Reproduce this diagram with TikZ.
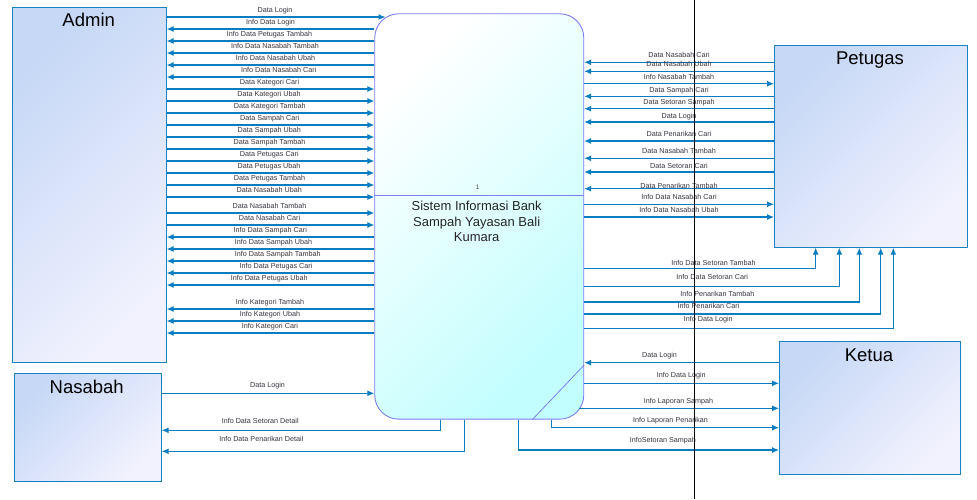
\documentclass[tikz,border=0pt]{standalone}
\usepackage{fontspec}
\setmainfont{Liberation Sans}
\usetikzlibrary{arrows.meta,calc}
\definecolor{flowc}{HTML}{0A7CC2}
\definecolor{entb}{HTML}{1482C4}
\definecolor{entA}{HTML}{C6D8F6}
\definecolor{entB}{HTML}{F2F2FE}
\definecolor{procb}{HTML}{7E7EF2}
\definecolor{procA}{HTML}{FFFFFF}
\definecolor{procB}{HTML}{C2FEFE}
\definecolor{lblc}{HTML}{3A3440}
\begin{document}
\begin{tikzpicture}[x=1pt,y=-1pt,
  ent/.style={draw=entb, line width=1pt, top color=entA, bottom color=entB, shading angle=45, anchor=north west, inner sep=0pt},
  procbox/.style={draw=procb, line width=0.9pt, rounded corners=24pt, top color=procA, bottom color=procB, shading angle=45, anchor=north west, inner sep=0pt},
  flow/.style={draw=flowc, line width=1.1pt, -{Latex[length=7pt,width=6pt]}},
  lbl/.style={font=\fontsize{7.2}{8}\selectfont, text=lblc, inner sep=0pt, anchor=base},
  ttl/.style={font=\fontsize{18.5}{20}\selectfont, inner sep=0pt, anchor=base},
  ptxt/.style={font=\fontsize{13}{15}\selectfont, text=black!85, inner sep=0pt, anchor=base}]
\useasboundingbox (0,0) rectangle (977,499);
\fill[white] (0,0) rectangle (977,499);

% entities
\node[ent, minimum width=153.4pt, minimum height=354.7pt] (admin) at (12.3,7.3) {};
\node[ent, minimum width=146.7pt, minimum height=107.7pt] (nas) at (14,373.3) {};
\node[ent, minimum width=192.7pt, minimum height=201.4pt] (pet) at (774,45.3) {};
\node[ent, minimum width=181pt, minimum height=133pt] (ket) at (779,341) {};
\node[ttl] (admint) at (88.7,26.7) {Admin};
\node[ttl] (nast) at (86.7,393.3) {Nasabah};
\node[ttl] (pett) at (870,64.7) {Petugas};
\node[ttl] (kett) at (869,361) {Ketua};

% process
\node[procbox, minimum width=209pt, minimum height=405.4pt] (proc) at (374.3,13.3) {};
\draw[procb, line width=0.8pt] (proc.west |- 0,195) -- (proc.east |- 0,195);
\draw[procb, line width=0.8pt] (proc.east |- 0,365) -- (proc.south -| 532.3,0);
\node[font=\fontsize{6.5}{7}\selectfont, text=black!70, inner sep=0pt] (pnum) at (477.7,187.7) {1};
\node[ptxt] (pt1) at (476.7,210) {Sistem Informasi Bank};
\node[ptxt] (pt2) at (476.7,226) {Sampah Yayasan Bali};
\node[ptxt] (pt3) at (476.7,241.7) {Kumara};

% Admin <-> process
\coordinate (pin) at (385.5,17);
\draw[flow] (admin.east |- pin) -- (pin);
\node[lbl] (la0) at (275,12.5) {Data Login};
\foreach \yy/\lx/\lab [count=\i] in {
  29/270.5/Info Data Login,
  41/269.5/Info Data Petugas Tambah,
  53/275/Info Data Nasabah Tambah,
  65/275.5/Info Data Nasabah Ubah,
  77/278.8/Info Data Nasabah Cari,
  237/270.3/Info Data Sampah Cari,
  249/273.5/Info Data Sampah Ubah,
  261/277.7/Info Data Sampah Tambah,
  273/276/Info Data Petugas Cari,
  285/269.2/Info Data Petugas Ubah,
  309/270/Info Kategori Tambah,
  321/270/Info Kategori Ubah,
  333/270/Info Kategori Cari}{
  \draw[flow] (proc.west |- 0,\yy) -- (admin.east |- 0,\yy);
  \node[lbl] (lal\i) at (\lx,\yy-4.5) {\lab};
}
\foreach \yy/\lx/\lab [count=\i] in {
  89/269.5/Data Kategori Cari,
  101/269/Data Kategori Ubah,
  113/269.7/Data Kategori Tambah,
  125/269.7/Data Sampah Cari,
  137/269.3/Data Sampah Ubah,
  149/269.5/Data Sampah Tambah,
  161/269.3/Data Petugas Cari,
  173/269/Data Petugas Ubah,
  185/269.5/Data Petugas Tambah,
  197/269.3/Data Nasabah Ubah,
  213/269.5/Data Nasabah Tambah,
  225/269.5/Data Nasabah Cari}{
  \draw[flow] (admin.east |- 0,\yy) -- (proc.west |- 0,\yy);
  \node[lbl] (lar\i) at (\lx,\yy-4.5) {\lab};
}

% Petugas <-> process
\foreach \yy/\by/\lab [count=\i] in {
  62.3/57.9/Data Nasabah Cari,
  71.3/66.9/Data Nasabah Ubah,
  96.3/92.3/Data Sampah Cari,
  108.7/104.3/Data Setoran Sampah,
  122/118.3/Data Login,
  141/136.9/Data Penarikan Cari,
  158.3/153.9/Data Nasabah Tambah,
  172/168.3/Data Setoran Cari,
  188.7/188.3/Data Penarikan Tambah}{
  \draw[flow] (pet.west |- 0,\yy) -- (proc.east |- 0,\yy);
  \node[lbl] (lpl\i) at (679,\by) {\lab};
}
\foreach \yy/\by/\lab [count=\i] in {
  83.7/79.9/Info Nasabah Tambah,
  204.3/199.3/Info Data Nasabah Cari,
  217/212.9/Info Data Nasabah Ubah}{
  \draw[flow] (proc.east |- 0,\yy) -- (pet.west |- 0,\yy);
  \node[lbl] (lpr\i) at (679,\by) {\lab};
}
\foreach \yy/\vx/\lx/\by/\lab [count=\i] in {
  268.3/815.7/713.5/265.3/Info Data Setoran Tambah,
  286.3/839.3/712.2/279.9/Info Data Setoran Cari,
  302/859.3/717.3/296.6/Info Penarikan Tambah,
  314/880.7/708.5/308.9/Info Penarikan Cari,
  328.3/893.3/708.3/321.3/Info Data Login}{
  \draw[flow] (proc.east |- 0,\yy) -| (pet.south -| \vx,0);
  \node[lbl] (lpu\i) at (\lx,\by) {\lab};
}

% Ketua <-> process
\draw[flow] (ket.west |- 0,362.7) -- (proc.east |- 0,362.7);
\node[lbl] (lk1) at (659.5,357.9) {Data Login};
\draw[flow] (proc.east |- 0,383.3) -- (ket.west |- 0,383.3);
\node[lbl] (lk2) at (681.3,377.9) {Info Data Login};
\coordinate (lapS) at (579.1,408.3);
\draw[flow] (lapS) -- (ket.west |- lapS);
\node[lbl] (lk3) at (678.5,403.3) {Info Laporan Sampah};
\draw[flow] (proc.south -| 551.7,0) |- (ket.west |- 0,427.7);
\node[lbl] (lk4) at (670.5,422.3) {Info Laporan Penarikan};
\draw[flow] (proc.south -| 518.3,0) |- (ket.west |- 0,450);
\node[lbl] (lk5) at (662.8,442.9) {InfoSetoran Sampah};

% Nasabah <-> process
\draw[flow] (nas.east |- 0,393.3) -- (proc.west |- 0,393.3);
\node[lbl] (ln1) at (267.5,387.9) {Data Login};
\draw[flow] (proc.south -| 440.7,0) |- (nas.east |- 0,430.3);
\node[lbl] (ln2) at (260.2,423.9) {Info Data Setoran Detail};
\draw[flow] (proc.south -| 464.3,0) |- (nas.east |- 0,451.3);
\node[lbl] (ln3) at (261.3,441.3) {Info Data Penarikan Detail};

% vertical black line
\coordinate (vt) at (694.3,0);
\coordinate (vb) at (694.3,499);
\draw[black, line width=1.2pt] (vt) -- (vb);
\end{tikzpicture}
\end{document}
